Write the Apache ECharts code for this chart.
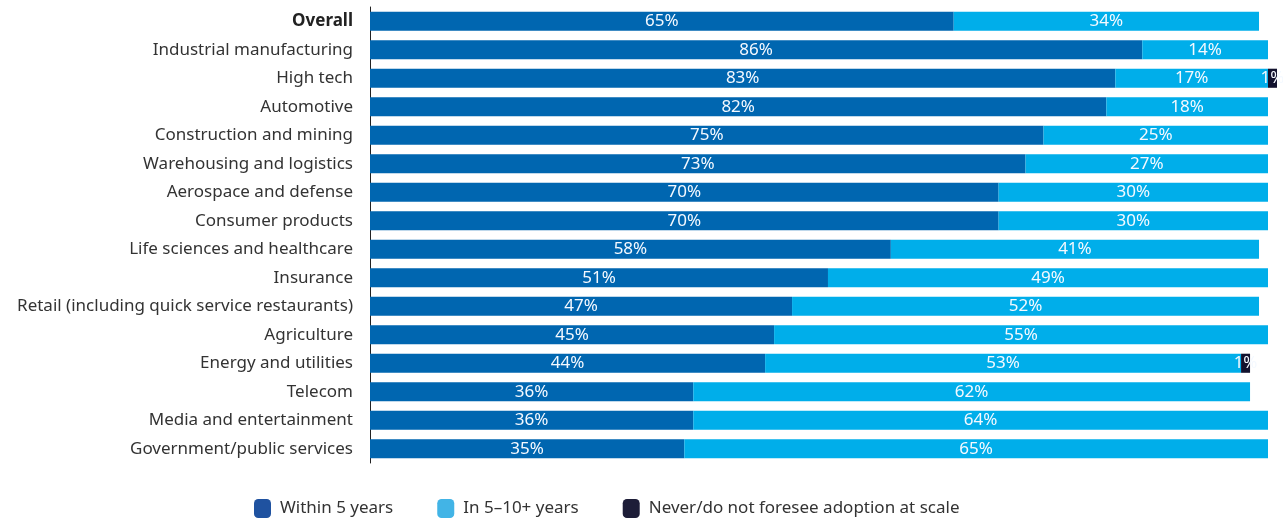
<!DOCTYPE html>
<html><head><meta charset="utf-8">
<script src="https://cdn.jsdelivr.net/npm/echarts@6/dist/echarts.min.js"></script>
<style>html,body{margin:0;padding:0;background:#fff}#c{width:1283px;height:518px}</style>
</head><body><div id="c"></div>
<script>
const categories = ["Overall","Industrial manufacturing","High tech","Automotive","Construction and mining","Warehousing and logistics","Aerospace and defense","Consumer products","Life sciences and healthcare","Insurance","Retail (including quick service restaurants)","Agriculture","Energy and utilities","Telecom","Media and entertainment","Government/public services"];
const within5 = [65,86,83,82,75,73,70,70,58,51,47,45,44,36,36,35];
const in5to10 = [34,14,17,18,25,27,30,30,41,49,52,55,53,62,64,65];
const never = [null,null,1,null,null,null,null,null,null,null,null,null,1,null,null,null];
const seriesNames = ["Within 5 years","In 5\u201310+ years","Never/do not foresee adoption at scale"];

const font = "'Noto Sans', sans-serif";
const chart = echarts.init(document.getElementById('c'));
const lbl = {show:true,position:'inside',color:'#f4f9ff',fontFamily:font,fontSize:17,formatter:p=>p.value+'%'};
chart.setOption({
  animation:false,
  grid:{left:370,right:0,top:7,height:456,containLabel:false},
  xAxis:{type:'value',min:0,max:101.67,show:true,axisLine:{show:false},axisTick:{show:false},axisLabel:{show:false},splitLine:{show:false}},
  yAxis:{type:'category',inverse:true,data:categories,
    axisLine:{show:true,lineStyle:{color:'#222',width:1}},axisTick:{show:false},
    axisLabel:{margin:17,fontFamily:font,fontSize:17,color:'#333',
      formatter:(v,i)=>i===0?'{b|'+v+'}':v,rich:{b:{fontWeight:'bold',fontFamily:font,fontSize:17,color:'#222'}}}},
  legend:{left:249,top:494,itemWidth:17,itemHeight:19,itemGap:44,
    textStyle:{fontFamily:font,fontSize:17,color:'#333',padding:[0,0,0,4]},
    data:[{name:seriesNames[0],itemStyle:{color:'#1f52a0'}},{name:seriesNames[1],itemStyle:{color:'#42b4e6'}},{name:seriesNames[2],itemStyle:{color:'#1d1d38'}}]},
  series:[
    {name:seriesNames[0],type:'bar',stack:'a',data:within5,barCategoryGap:'33%',itemStyle:{color:'#0066b0'},label:lbl},
    {name:seriesNames[1],type:'bar',stack:'a',data:in5to10,itemStyle:{color:'#00aeea'},label:lbl},
    {name:seriesNames[2],type:'bar',stack:'a',data:never,itemStyle:{color:'#12122e'},label:lbl}
  ]
});
</script></body></html>
